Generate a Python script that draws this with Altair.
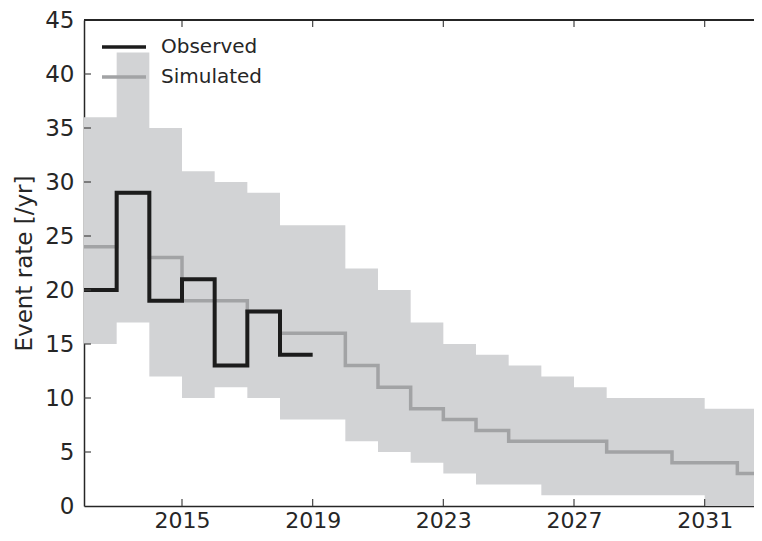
import altair as alt
import pandas as pd

# ---- data ----
years = list(range(2012, 2033))
band_upper = [36, 42, 35, 31, 30, 29, 26, 26, 22, 20, 17, 15, 14, 13, 12, 11, 10, 10, 10, 9, 9]
band_lower = [15, 17, 12, 10, 11, 10, 8, 8, 6, 5, 4, 3, 2, 2, 1, 1, 1, 1, 1, 0, 0]
simulated = [24, 29, 23, 19, 19, 18, 16, 16, 13, 11, 9, 8, 7, 6, 6, 6, 5, 5, 4, 4, 3]

obs_years = [2012, 2013, 2014, 2015, 2016, 2017, 2018]
observed = [20, 29, 19, 21, 13, 18, 14]
obs_end_year = 2019

x_ticks = [2015, 2019, 2023, 2027, 2031]
y_ticks = [0, 5, 10, 15, 20, 25, 30, 35, 40, 45]
series_names = ["Observed", "Simulated"]
series_colors = ["#1c1c1c", "#a2a3a5"]

X_DOMAIN = [2012, 2032.51]
W, H = 670, 486
FONT = "DejaVu Sans"
TXT = "#262626"

# step data: repeat the last value one step past the final year
sim_df = pd.DataFrame({
    "year": years + [years[-1] + 1],
    "upper": band_upper + [band_upper[-1]],
    "lower": band_lower + [band_lower[-1]],
    "value": simulated + [simulated[-1]],
    "series": "Simulated",
})
obs_df = pd.DataFrame({
    "year": obs_years + [obs_end_year],
    "value": observed + [observed[-1]],
    "series": "Observed",
})

xscale = alt.Scale(domain=X_DOMAIN, nice=False, zero=False)
yscale = alt.Scale(domain=[0, 45], nice=False)
cscale = alt.Scale(domain=series_names, range=series_colors)

x_axis = alt.Axis(values=x_ticks, format="d", tickSize=0, labelPadding=4, grid=False,
                  labelFontSize=22, title=None, domainColor=TXT, domainWidth=1.5)
y_axis = alt.Axis(values=y_ticks, tickSize=0, labelPadding=10, grid=False,
                  labelFontSize=23, title="Event rate [/yr]", titlePadding=8,
                  domainColor=TXT, domainWidth=1.5)

band = alt.Chart(sim_df).mark_area(interpolate="step-after", color="#d2d3d5", clip=True).encode(
    x=alt.X("year:Q", scale=xscale, axis=x_axis),
    y=alt.Y("lower:Q", scale=yscale, axis=y_axis),
    y2="upper:Q",
)

color_enc = alt.Color("series:N", scale=cscale, title=None)

sim_line = alt.Chart(sim_df).mark_line(interpolate="step-after", strokeWidth=3.5, clip=True,
                                       strokeCap="butt", strokeJoin="miter").encode(
    x=alt.X("year:Q", scale=xscale),
    y=alt.Y("value:Q", scale=yscale),
    color=color_enc,
)
obs_line = alt.Chart(obs_df).mark_line(interpolate="step-after", strokeWidth=4, clip=True,
                                       strokeCap="butt", strokeJoin="miter").encode(
    x=alt.X("year:Q", scale=xscale),
    y=alt.Y("value:Q", scale=yscale),
    color=color_enc,
)

xt_df = pd.DataFrame({"year": x_ticks})
yt_df = pd.DataFrame({"v": y_ticks[1:-1]})

top_ticks = alt.Chart(xt_df).mark_rule(color="#444444", strokeWidth=1.2).encode(
    x=alt.X("year:Q", scale=xscale), y=alt.value(0), y2=alt.value(7))
bot_ticks = alt.Chart(xt_df).mark_rule(color="#444444", strokeWidth=1.2).encode(
    x=alt.X("year:Q", scale=xscale), y=alt.value(H), y2=alt.value(H - 7))
left_ticks = alt.Chart(yt_df).mark_rule(color="#444444", strokeWidth=1.2).encode(
    y=alt.Y("v:Q", scale=yscale), x=alt.value(0), x2=alt.value(7))
top_border = alt.Chart(xt_df).mark_rule(color=TXT, strokeWidth=1.5).encode(
    x=alt.value(0), x2=alt.value(W), y=alt.value(0))

chart = alt.layer(band, sim_line, obs_line, top_ticks, bot_ticks, left_ticks, top_border).properties(
    width=W, height=H,
    autosize=alt.AutoSizeParams(type="none"),
    padding={"left": 76, "top": 12, "right": 0, "bottom": 27},
).configure_view(stroke=None).configure_axis(
    labelFont=FONT, labelColor=TXT,
    titleFont=FONT, titleFontSize=23, titleColor=TXT, titleFontWeight="normal",
).configure_legend(
    orient="none", legendX=30, legendY=17, padding=0,
    symbolType="M-4.4,0H4.4", symbolSize=100, symbolStrokeWidth=3.5,
    labelFont=FONT, labelFontSize=20, labelColor=TXT, labelOffset=27,
    rowPadding=10,
)

chart.save("out.html", embed_options={"renderer": "svg", "actions": False})
